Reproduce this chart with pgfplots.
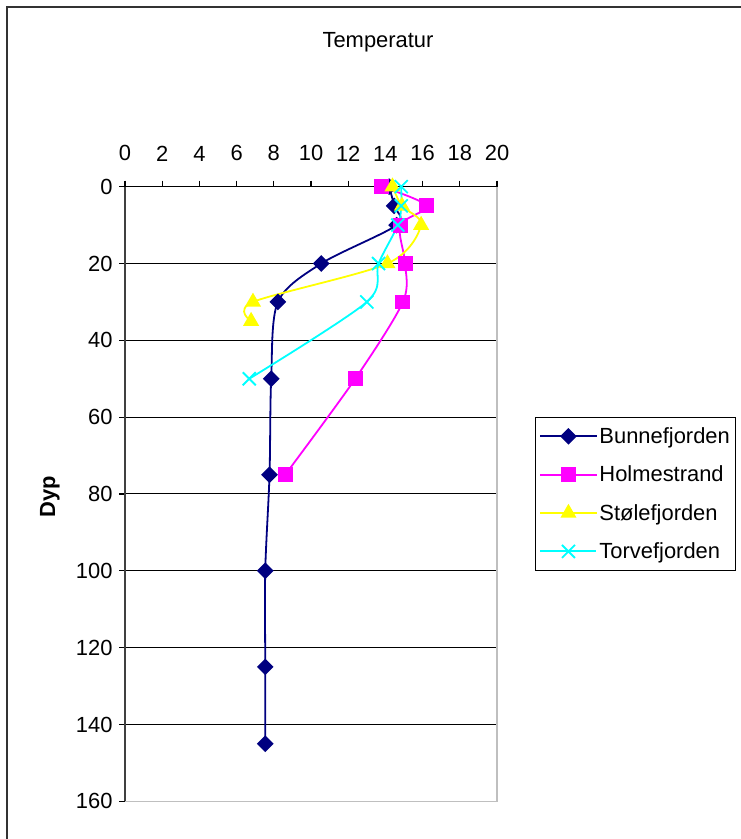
\documentclass[border=0pt]{standalone}
\usepackage{pgfplots}
\pgfplotsset{compat=1.18}
\usepackage{fontspec}
\setmainfont{Liberation Sans}
\definecolor{navy}{RGB}{0,0,128}
\definecolor{mag}{RGB}{255,0,255}
\definecolor{yel}{RGB}{255,255,0}
\definecolor{cya}{RGB}{0,255,255}
\begin{document}
\begin{tikzpicture}[x=1bp,y=1bp]
\useasboundingbox (0,0) rectangle (741,839);
\draw[line width=2bp, black!80] (7,-20) rectangle (770,832);
\node[anchor=base, font=\fontsize{22}{26}\selectfont] at (378,791) {Temperatur};
\node[anchor=base, rotate=90, font=\fontsize{22}{26}\selectfont\bfseries] at (55,342) {Dyp};
\begin{axis}[
  at={(125bp,37.7bp)}, anchor=south west,
  scale only axis, width=372bp, height=614.6bp,
  xmin=0, xmax=20, ymin=0, ymax=160, y dir=reverse,
  xtick={0,2,...,20}, ytick={0,20,...,160},
  xtick pos=upper, xticklabel pos=upper, ytick pos=left,
  tick align=outside, major tick length=6bp,
  tick style={black, line width=1.2bp},
  axis line style={draw=none},
  ymajorgrids, grid style={black, line width=1bp},
  /pgf/number format/assume math mode=true,
  tick label style={font=\fontsize{22}{26}\selectfont},
  xticklabel style={yshift=16bp},
  yticklabel style={xshift=-3bp},
  clip=false,
  legend style={at={(axis description cs:1.102,0.625)}, anchor=north west,
    draw=black, line width=1bp, fill=white,
    font=\fontsize{22}{26}\selectfont, inner xsep=4bp, inner ysep=8bp,
    row sep=17bp},
  legend cell align=left,
  legend image code/.code={\draw[mark repeat=2,mark phase=2] plot coordinates {(0bp,0bp)(28bp,0bp)(56bp,0bp)};},
]
\draw[black!25, line width=1.5bp] (axis cs:20,0) -- (axis cs:20,160) -- (axis cs:0,160);
\draw[black!75, line width=1.5bp] (axis cs:0,160) -- (axis cs:0,0);
\draw[black, line width=1.5bp] (axis cs:0,0) -- (axis cs:20,0);

\addplot[navy, line width=1.8bp, smooth, mark=square*, mark size=5bp,
  mark options={rotate=45, solid, fill=navy}] coordinates {
  (14.2,0) (14.47,5) (14.6,10) (10.55,20) (8.22,30) (7.86,50) (7.77,75) (7.54,100) (7.54,125) (7.54,145)};
\addlegendentry{Bunnefjorden}
\addplot[mag, line width=1.8bp, smooth, mark=square*, mark size=6.5bp,
  mark options={solid, fill=mag}] coordinates {
  (13.81,0) (16.23,5) (14.8,10) (15.06,20) (14.94,30) (12.38,50) (8.61,75)};
\addlegendentry{Holmestrand}
\addplot[yel, line width=1.8bp, smooth, mark=triangle*, mark size=7.5bp,
  mark options={solid, fill=yel}] coordinates {
  (14.38,0) (14.89,5) (15.92,10) (14.11,20) (6.88,30) (6.78,35)};
\addlegendentry{Stølefjorden}
\addplot[cya, line width=1.8bp, smooth, mark=x, mark size=9.2bp,
  mark options={solid, line width=1.8bp, draw=cya},
  legend image code/.code={\draw[cya, line width=2bp] (0bp,0bp) -- (56bp,0bp);
    \draw[cya, line width=1.8bp] (21.5bp,-6.5bp) -- (34.5bp,6.5bp) (21.5bp,6.5bp) -- (34.5bp,-6.5bp);}] coordinates {
  (14.85,0) (14.85,5) (14.67,10) (13.63,20) (13.0,30) (6.68,50)};
\addlegendentry{Torvefjorden}
\end{axis}
\end{tikzpicture}
\end{document}
